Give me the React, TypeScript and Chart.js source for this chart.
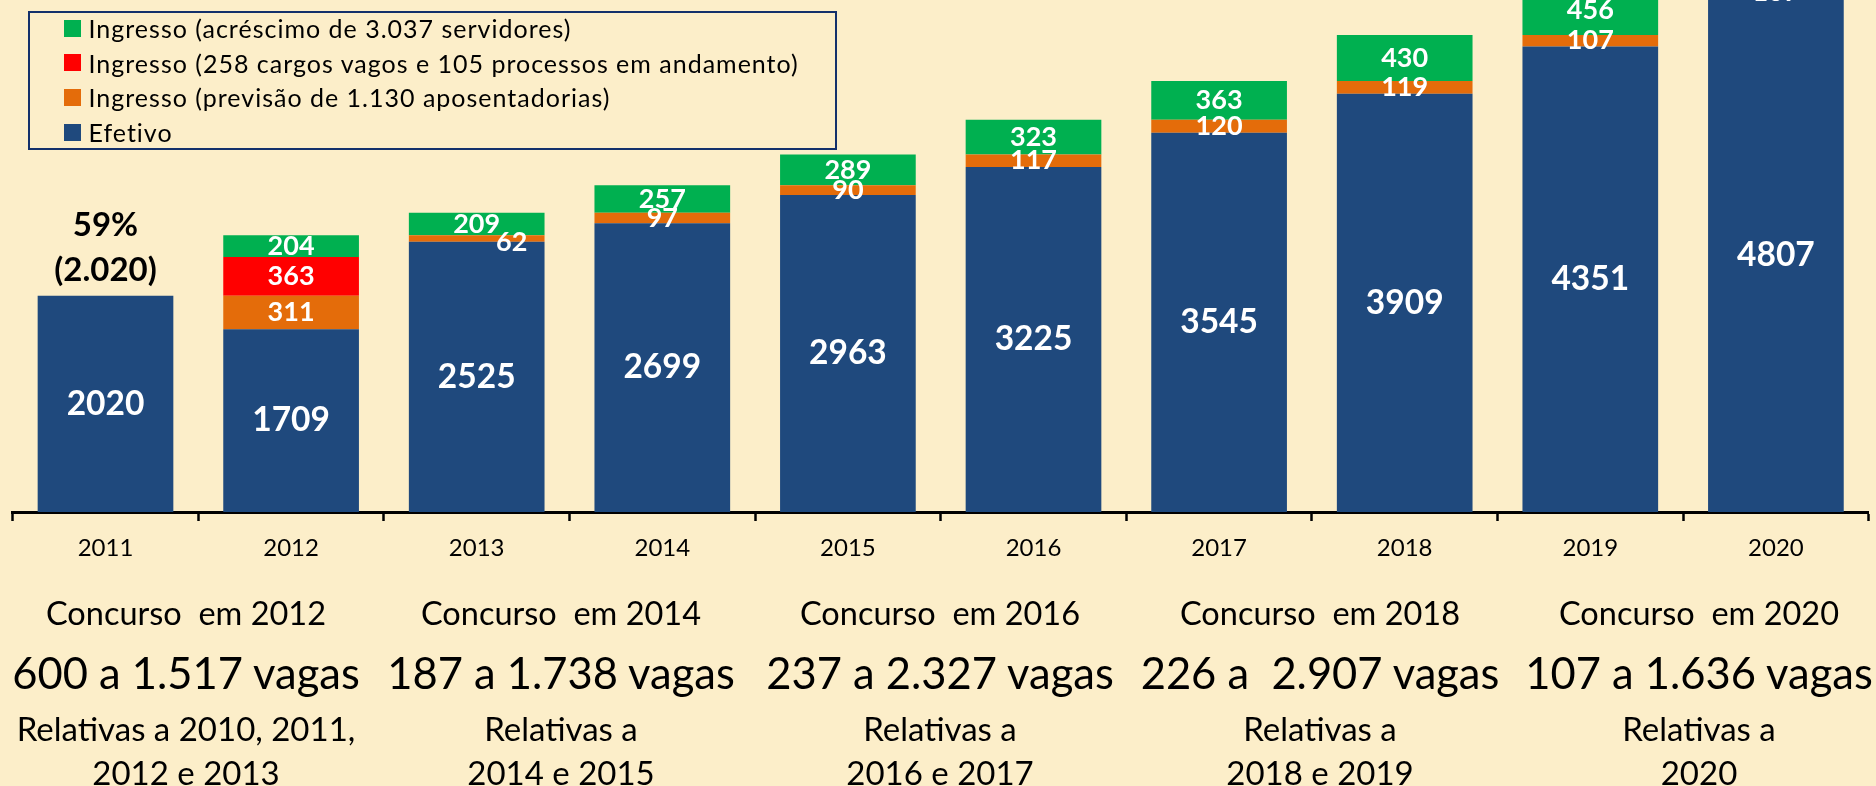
import React, { useEffect, useRef } from 'react';
import { Chart, registerables } from 'chart.js';

Chart.register(...registerables);

// ---- data ----
const years = ['2011', '2012', '2013', '2014', '2015', '2016', '2017', '2018', '2019', '2020'];
const efetivo = [2020, 1709, 2525, 2699, 2963, 3225, 3545, 3909, 4351, 4807];
const aposentadorias = [null, 311, 62, 97, 90, 117, 120, 119, 107, 107];
const cargosVagos = [null, 363, null, null, null, null, null, null, null, null];
const acrescimo = [null, 204, 209, 257, 289, 323, 363, 430, 456, 506];

const seriesNames = [
  'Efetivo',
  'Ingresso (previsão de 1.130 aposentadorias)',
  'Ingresso (258 cargos vagos e 105 processos em andamento)',
  'Ingresso (acréscimo de 3.037 servidores)',
];
const seriesColors = ['#1F497D', '#E46C0A', '#FF0000', '#00B050'];

const firstBarNote = ['59%', '(2.020)'];

const concursoLabels = ['Concurso  em 2012', 'Concurso  em 2014', 'Concurso  em 2016', 'Concurso  em 2018', 'Concurso  em 2020'];
const vagasLabels = ['600 a 1.517 vagas', '187 a 1.738 vagas', '237 a 2.327 vagas', '226 a  2.907 vagas', '107 a 1.636 vagas'];
const relativasLine1 = ['Relativas a 2010, 2011,', 'Relativas a', 'Relativas a', 'Relativas a', 'Relativas a'];
const relativasLine2 = ['2012 e 2013', '2014 e 2015', '2016 e 2017', '2018 e 2019', '2020'];

// ---- layout / style ----
const W = 1876;
const H = 786;
const BG = '#FCEEC9';
const FONT = 'Lato, "Open Sans", sans-serif';
const Y_MAX = 4785;
const AXIS_Y = 512;
const groupCenters = [186, 561, 940, 1320, 1699];
const labelShift: Record<string, { dx: number; dy: number }> = { '1-2': { dx: 35, dy: 4 } };

const labelPlugin = {
  id: 'barLabels',
  afterDatasetsDraw(chart: any) {
    const ctx = chart.ctx;
    ctx.save();
    ctx.textAlign = 'center';
    ctx.textBaseline = 'middle';
    chart.data.datasets.forEach((ds: any, di: number) => {
      const meta = chart.getDatasetMeta(di);
      meta.data.forEach((el: any, i: number) => {
        const v = ds.data[i];
        if (v === null || v === undefined) return;
        const size = di === 0 ? 33.5 : 27;
        ctx.font = `bold ${size}px ${FONT}`;
        ctx.fillStyle = '#FFFFFF';
        const sh = labelShift[`${di}-${i}`] || { dx: 0, dy: 0 };
        const cy = (el.y + el.base) / 2;
        ctx.fillText(String(v), el.x + sh.dx, cy + sh.dy);
      });
    });
    // note above the first bar
    const m0 = chart.getDatasetMeta(0).data[0];
    ctx.font = `bold 33px ${FONT}`;
    ctx.fillStyle = '#000000';
    ctx.fillText(firstBarNote[0], m0.x, m0.y - 70);
    ctx.fillText(firstBarNote[1], m0.x, m0.y - 25);
    ctx.restore();
  },
};

export default function App() {
  const ref = useRef<HTMLCanvasElement | null>(null);

  useEffect(() => {
    document.body.style.margin = '0';
    document.body.style.background = BG;
    const canvas = ref.current;
    if (!canvas) return;
    const dataArrays = [efetivo, aposentadorias, cargosVagos, acrescimo];
    const chart = new Chart(canvas, {
      type: 'bar',
      data: {
        labels: years,
        datasets: dataArrays.map((d, i) => ({
          label: seriesNames[i],
          data: d as any,
          backgroundColor: seriesColors[i],
          borderWidth: 0,
          barPercentage: 1,
          categoryPercentage: 0.731,
          stack: 's',
        })),
      },
      options: {
        responsive: false,
        animation: false,
        devicePixelRatio: 1,
        layout: { padding: { left: 12.7, right: 7.3, top: 0, bottom: 0 } },
        plugins: { legend: { display: false }, tooltip: { enabled: false }, title: { display: false } },
        scales: {
          x: {
            stacked: true,
            afterFit: (scale: any) => {
              scale.height = H - AXIS_Y;
            },
            grid: {
              display: true,
              drawOnChartArea: false,
              drawTicks: true,
              tickLength: 9,
              tickWidth: 2.5,
              tickColor: '#000000',
              color: '#000000',
              offset: true,
            },
            border: { display: true, color: '#000000', width: 3 },
            ticks: { color: '#000000', font: { family: FONT, size: 24 }, padding: 13, maxRotation: 0 },
          },
          y: {
            stacked: true,
            display: false,
            min: 0,
            max: Y_MAX,
          },
        },
      },
      plugins: [labelPlugin],
    });
    return () => chart.destroy();
  }, []);

  const legendOrder = [3, 2, 1, 0];

  const textStyle = (x: number, y: number, size: number): React.CSSProperties => ({
    position: 'absolute',
    left: x,
    top: y,
    transform: 'translate(-50%, -50%)',
    fontFamily: FONT,
    fontSize: size,
    lineHeight: 1,
    whiteSpace: 'pre',
    color: '#000',
  });

  return (
    <div style={{ position: 'fixed', left: 0, top: 0, width: W, height: H, background: BG, overflow: 'hidden' }}>
      <canvas ref={ref} width={W} height={H} style={{ position: 'absolute', left: 0, top: 0, width: W, height: H }} />
      <div
        style={{
          position: 'absolute',
          left: 28,
          top: 11,
          width: 809,
          height: 139,
          boxSizing: 'border-box',
          border: '2.5px solid #13306B',
          fontFamily: FONT,
          fontSize: 25,
          letterSpacing: 1,
          color: '#000',
        }}
      >
        {legendOrder.map((si, r) => (
          <div
            key={si}
            style={{
              position: 'absolute',
              left: 33.5,
              top: 15.2 + r * 34.6 - 17,
              height: 34,
              display: 'flex',
              alignItems: 'center',
              whiteSpace: 'nowrap',
            }}
          >
            <span style={{ display: 'inline-block', width: 17, height: 17, background: seriesColors[si], marginRight: 8 }} />
            <span>{seriesNames[si]}</span>
          </div>
        ))}
      </div>
      {groupCenters.map((cx, g) => (
        <React.Fragment key={g}>
          <div style={textStyle(cx, 613, 32.5)}>{concursoLabels[g]}</div>
          <div style={textStyle(cx, 673, 43.5)}>{vagasLabels[g]}</div>
          <div style={textStyle(cx, 728, 33)}>{relativasLine1[g]}</div>
          <div style={textStyle(cx, 772, 33)}>{relativasLine2[g]}</div>
        </React.Fragment>
      ))}
    </div>
  );
}
